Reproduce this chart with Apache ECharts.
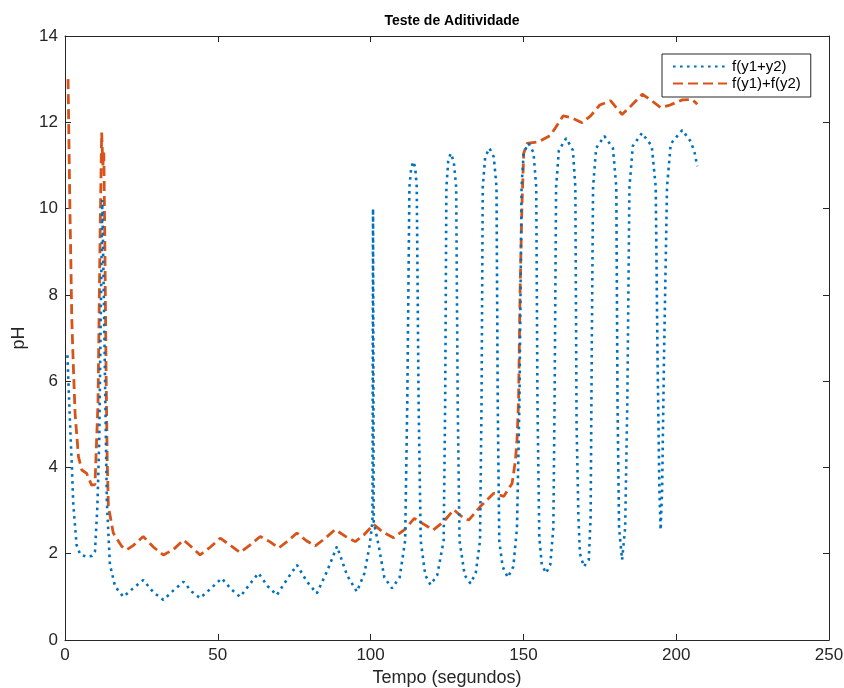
<!DOCTYPE html>
<html>
<head>
<meta charset="utf-8">
<title>Teste de Aditividade</title>
<script src="https://cdn.jsdelivr.net/npm/echarts@6/dist/echarts.min.js"></script>
<style>
  html, body { margin: 0; padding: 0; background: #fff; }
  #chart { width: 844px; height: 688px; }
</style>
</head>
<body>
<div id="chart"></div>
<script>
// f(y1+y2) - tempo (s) e pH
var sumTime = [0.8, 1.6, 2.2, 2.7, 3.8, 5.0, 7.1, 8.8, 9.8, 10.6, 11.2, 11.7, 12.2, 12.7, 13.2, 13.7, 14.7, 16.4, 19.1,
  22.3, 25.6, 29.0, 32.2, 35.5, 38.8, 41.5, 44.2, 47.8, 51.3, 54.3, 57.3, 60.3, 63.3, 66.3, 69.3, 72.6, 75.9, 79.2, 82.4,
  85.8, 89.0, 92.3, 95.5, 98.0, 99.7, 100.6, 100.8, 101.0, 102.6, 104.5, 107.0, 109.5,
  111.3, 112.0, 112.7, 113.3, 114.0, 114.6, 115.1, 115.7, 116.4, 117.9, 119.6, 121.8,
  123.9, 124.4, 124.8, 125.4, 126.2, 127.2, 128.0, 128.5, 129.1, 130.8, 132.7, 134.4,
  135.8, 136.3, 136.7, 137.5, 138.9, 140.3, 141.2, 141.6, 142.1, 143.2, 144.9, 146.7,
  147.9, 148.7, 149.4, 150.1, 151.7, 153.3, 154.2, 154.6, 155.2, 156.0, 157.4, 158.8,
  159.8, 160.2, 160.7, 161.6, 164.0, 166.2, 167.0, 167.4, 168.0, 168.5, 169.8, 171.4,
  172.0, 172.4, 172.8, 173.8, 176.5, 179.3, 180.4, 180.8, 181.3, 182.3, 183.3,
  184.0, 184.7, 185.8, 188.8, 192.0, 193.3, 193.9, 194.5, 194.9, 195.4, 196.0,
  197.0, 198.2, 202.0, 204.8, 206.0, 206.9];
var sumPH = [6.6, 5.1, 4.1, 3.15, 2.2, 1.98, 1.93, 1.95, 2.05, 3.1, 4.6, 7.5, 10.2, 8.0, 5.5, 3.2, 1.75, 1.24, 1.0,
  1.2, 1.39, 1.1, 0.93, 1.15, 1.35, 1.12, 0.97, 1.2, 1.43, 1.18, 1.0, 1.28, 1.55, 1.25, 1.04, 1.4, 1.74, 1.35, 1.08,
  1.6, 2.17, 1.5, 1.12, 1.55, 2.2, 2.75, 10.0, 2.75, 2.2, 1.45, 1.2, 1.45,
  2.3, 5.5, 10.5, 10.95, 11.09, 10.95, 10.5, 5.5, 2.3, 1.5, 1.28, 1.5,
  2.3, 5.5, 10.5, 11.1, 11.28, 11.1, 10.5, 5.5, 2.3, 1.5, 1.31, 1.55,
  2.3, 5.5, 10.5, 11.2, 11.4, 11.2, 10.5, 5.5, 2.3, 1.7, 1.45, 1.7,
  2.6, 5.5, 10.5, 11.3, 11.51, 11.3, 10.5, 5.5, 2.4, 1.75, 1.55, 1.75,
  2.6, 5.5, 10.5, 11.35, 11.63, 11.35, 10.5, 5.0, 2.86, 2.0, 1.7, 1.86,
  2.86, 7.0, 10.5, 11.4, 11.68, 11.4, 10.5, 5.5, 2.6, 1.86, 2.6,
  5.5, 10.5, 11.45, 11.75, 11.45, 10.5, 6.5, 3.5, 2.55, 3.5, 6.5,
  10.5, 11.5, 11.82, 11.55, 11.3, 10.98];

// f(y1)+f(y2)
var addTime = [1.0, 1.3, 1.6, 1.9, 2.2, 2.7, 3.3, 4.4, 5.5, 7.1, 8.7, 9.8, 10.8, 11.5, 12.0, 12.4, 12.7, 13.0, 13.4, 13.8,
  14.2, 15.8, 18.6, 20.2, 22.5, 25.6, 29.0, 32.2, 35.5, 38.8, 41.5, 44.2, 47.5, 50.8, 54.0, 57.3, 60.5, 63.9, 67.0,
  69.9, 73.0, 75.9, 79.0, 81.9, 85.0, 88.4, 91.8, 95.0, 98.0, 101.0, 104.0, 107.5, 111.0, 114.3, 117.5, 120.5,
  124.0, 127.2, 130.0, 132.1, 136.0, 140.3, 143.6, 146.3, 147.4, 147.9, 148.4, 148.9, 149.5, 150.1, 151.2,
  155.0, 158.9, 163.0, 166.0, 169.2, 172.0, 175.0, 178.5, 182.3, 185.5, 188.9, 192.0, 194.9, 198.0, 202.0,
  205.2, 206.9];
var addPH = [13.0, 11.5, 10.0, 8.85, 7.5, 6.4, 5.25, 4.25, 3.94, 3.86, 3.59, 3.6, 5.5, 9.5, 11.76, 11.0, 11.3, 9.5, 6.5, 4.2,
  3.1, 2.48, 2.17, 2.09, 2.2, 2.4, 2.15, 1.97, 2.1, 2.32, 2.15, 1.97, 2.15, 2.36, 2.2, 2.03, 2.2, 2.4, 2.28,
  2.13, 2.3, 2.48, 2.3, 2.18, 2.35, 2.56, 2.4, 2.28, 2.45, 2.68, 2.5, 2.37, 2.55, 2.82, 2.68, 2.55,
  2.75, 3.02, 2.85, 2.78, 3.1, 3.4, 3.33, 3.63, 4.17, 4.64, 5.5, 8.0, 10.0, 11.28, 11.51,
  11.55, 11.7, 12.15, 12.1, 11.99, 12.15, 12.4, 12.5, 12.18, 12.4, 12.65, 12.5, 12.34, 12.4, 12.52,
  12.53, 12.42];

var xTicks = [0, 50, 100, 150, 200, 250];
var yTicks = [0, 2, 4, 6, 8, 10, 12, 14];

function pairs(xs, ys) {
  return xs.map(function (x, i) { return [x, ys[i]]; });
}

var chart = echarts.init(document.getElementById('chart'));
var font = '"Liberation Sans", Arial, sans-serif';
var ink = '#262626';

var tickCommon = {
  axisLine: { show: true, onZero: false, lineStyle: { color: ink, width: 1 } },
  axisTick: { show: true, inside: true, length: 6, lineStyle: { color: ink } },
  splitLine: { show: false }
};

var option = {
  animation: false,
  backgroundColor: '#fff',
  title: {
    text: 'Teste de Aditividade',
    left: 447,
    textAlign: 'center',
    top: 9,
    textStyle: { fontFamily: font, fontSize: 14, fontWeight: 'bold', color: '#000' }
  },
  legend: {
    left: 662,
    top: 54,
    orient: 'vertical',
    itemWidth: 54,
    itemHeight: 14,
    itemGap: 2,
    padding: [5, 10, 6, 10],
    borderColor: ink,
    borderWidth: 1,
    backgroundColor: '#fff',
    itemStyle: { opacity: 0 },
    textStyle: { fontFamily: font, fontSize: 15, color: '#000' },
    data: ['f(y1+y2)', 'f(y1)+f(y2)']
  },
  grid: { left: 65, right: 15, top: 36, bottom: 48, outerBoundsMode: 'none', containLabel: false },
  xAxis: [
    Object.assign({
      type: 'value', min: 0, max: 250, interval: 50, position: 'bottom',
      name: 'Tempo (segundos)', nameLocation: 'middle', nameGap: 29,
      nameTextStyle: { fontFamily: font, fontSize: 18, color: ink },
      axisLabel: { fontFamily: font, fontSize: 17, color: ink, margin: 7,
        formatter: function (v) { return xTicks.indexOf(v) >= 0 ? String(v) : ''; } }
    }, tickCommon),
    Object.assign({
      type: 'value', min: 0, max: 250, interval: 50, position: 'top',
      axisLabel: { show: false }
    }, tickCommon)
  ],
  yAxis: [
    Object.assign({
      type: 'value', min: 0, max: 14, interval: 2, position: 'left',
      name: 'pH', nameLocation: 'middle', nameGap: 26, nameRotate: 90,
      nameTextStyle: { fontFamily: font, fontSize: 18, color: ink },
      axisLabel: { fontFamily: font, fontSize: 17, color: ink, margin: 7,
        formatter: function (v) { return yTicks.indexOf(v) >= 0 ? String(v) : ''; } }
    }, tickCommon),
    Object.assign({
      type: 'value', min: 0, max: 14, interval: 2, position: 'right',
      axisLabel: { show: false }
    }, tickCommon)
  ],
  series: [
    {
      name: 'f(y1+y2)',
      type: 'line',
      symbol: 'none',
      showSymbol: false,
      data: pairs(sumTime, sumPH),
      itemStyle: { color: '#0072BD' },
      lineStyle: { color: '#0072BD', width: 2.6, type: [2.6, 4.4] },
      z: 3
    },
    {
      name: 'f(y1)+f(y2)',
      type: 'line',
      symbol: 'none',
      showSymbol: false,
      data: pairs(addTime, addPH),
      itemStyle: { color: '#D95319' },
      lineStyle: { color: '#D95319', width: 2.8, type: [10, 5] },
      z: 2
    }
  ]
};

chart.setOption(option);
window.addEventListener('resize', function () {
  chart.resize();
});
</script>
</body>
</html>
